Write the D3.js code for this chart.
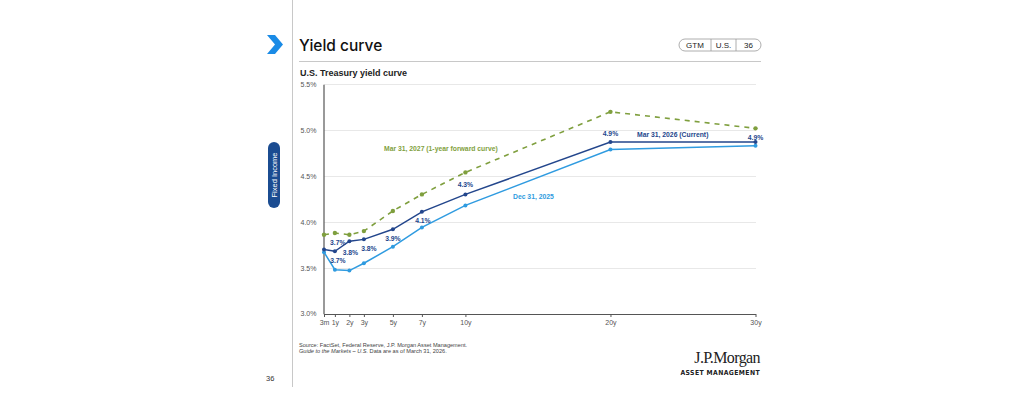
<!DOCTYPE html>
<html>
<head>
<meta charset="utf-8">
<script src="https://cdn.jsdelivr.net/npm/d3@7"></script>
<style>
  body { margin: 0; background: #fff; }
  svg { display: block; font-family: "Liberation Sans", Arial, sans-serif; }
</style>
</head>
<body>
<svg id="chart" width="1024" height="395"></svg>
<script>
// maturities in years (3m = 0.25)
var maturities = [0.25, 1, 2, 3, 5, 7, 10, 20, 30];
var tickLabels = ["3m", "1y", "2y", "3y", "5y", "7y", "10y", "20y", "30y"];
var yTicks = [3.0, 3.5, 4.0, 4.5, 5.0, 5.5];

var current = [3.70, 3.68, 3.79, 3.81, 3.92, 4.11, 4.30, 4.87, 4.87];
var dec2025 = [3.67, 3.48, 3.47, 3.55, 3.73, 3.94, 4.18, 4.79, 4.83];
var forward = [3.86, 3.88, 3.86, 3.90, 4.12, 4.30, 4.54, 5.20, 5.02];

// labels on the current curve: text, dx, dy (offset from point)
var curLabels = ["3.7%", "3.7%", "3.8%", "3.8%", "3.9%", "4.1%", "4.3%", "4.9%", "4.9%"];
var curLabelPos = [[6, -4], [3, 12], [1, 14], [5, 12], [0, 12], [1, 11], [0, -7], [0, -6], [0, -2]];

var blueDark = "#23468c";
var blueLight = "#2f9be0";
var green = "#7f9f3e";

var svg = d3.select("#chart");

// page frame
svg.append("line").attr("x1", 292.5).attr("x2", 292.5).attr("y1", 0).attr("y2", 387)
  .attr("stroke", "#c8c8c8").attr("stroke-width", 1);

svg.append("path").attr("d", "M267,35 L275,35 L283,44.5 L275,54 L267,54 L275,44.5 Z")
  .attr("fill", "#1a8be6");

svg.append("text").attr("x", 299).attr("y", 51).text("Yield curve")
  .attr("font-size", 15.5).attr("font-weight", 500).attr("fill", "#111")
  .style("font-family", "Inter, 'Liberation Sans', sans-serif");

svg.append("line").attr("x1", 299).attr("x2", 761).attr("y1", 61.5).attr("y2", 61.5)
  .attr("stroke", "#c8c8c8");

// GTM pill
var pill = svg.append("g");
pill.append("rect").attr("x", 679).attr("y", 39).attr("width", 82).attr("height", 12).attr("rx", 6)
  .attr("fill", "#fff").attr("stroke", "#999").attr("stroke-width", 0.8);
[711, 736].forEach(function(x){
  pill.append("line").attr("x1", x).attr("x2", x).attr("y1", 39).attr("y2", 51).attr("stroke", "#999").attr("stroke-width", 0.8);
});
[["GTM", 695], ["U.S.", 723.5], ["36", 748.5]].forEach(function(t){
  pill.append("text").attr("x", t[1]).attr("y", 48.3).attr("text-anchor", "middle")
    .attr("font-size", 8).attr("fill", "#222").text(t[0]);
});

svg.append("text").attr("x", 300).attr("y", 76).text("U.S. Treasury yield curve")
  .attr("font-size", 9).attr("font-weight", "bold").attr("fill", "#222");

// side tab
svg.append("rect").attr("x", 268).attr("y", 142).attr("width", 12).attr("height", 66).attr("rx", 6)
  .attr("fill", "#1b4c91");
svg.append("text").attr("transform", "translate(277.3,175) rotate(-90)").attr("text-anchor", "middle")
  .attr("font-size", 7.5).attr("fill", "#fff").text("Fixed Income");

svg.append("text").attr("x", 266).attr("y", 381).attr("font-size", 7.5).attr("fill", "#333").text("36");

// scales
var x = d3.scaleLinear().domain([0.25, 30]).range([324, 755.5]);
var y = d3.scaleLinear().domain([3.0, 5.5]).range([313.7, 84.3]);

// gridlines
svg.append("g").selectAll("line").data(yTicks.slice(1)).join("line")
  .attr("x1", 324).attr("x2", 756)
  .attr("y1", function(d){ return Math.round(y(d)) + 0.5; })
  .attr("y2", function(d){ return Math.round(y(d)) + 0.5; })
  .attr("stroke", "#e2e2e2").attr("stroke-width", 0.8);

// y axis
var yAxis = svg.append("g").attr("transform", "translate(323.5,0)")
  .call(d3.axisLeft(y).tickValues(yTicks).tickSize(0).tickPadding(7)
    .tickFormat(function(d){ return d.toFixed(1) + "%"; }));
yAxis.select(".domain").attr("stroke", "#555").attr("stroke-width", 1.2);
yAxis.selectAll("text").attr("font-size", 7).attr("fill", "#555").style("font-family", "'Liberation Sans', Arial, sans-serif");

// x axis
var xAxis = svg.append("g").attr("transform", "translate(0,314)")
  .call(d3.axisBottom(x).tickValues(maturities).tickSize(3).tickPadding(3)
    .tickFormat(function(d, i){ return tickLabels[i]; }));
xAxis.select(".domain").attr("stroke", "#555").attr("stroke-width", 1.2).attr("d", "M324,0.5H756");
xAxis.selectAll(".tick line").attr("stroke", "#555");
xAxis.selectAll("text").attr("font-size", 7).attr("fill", "#555").style("font-family", "'Liberation Sans', Arial, sans-serif");

function drawSeries(vals, color, dashed, r){
  var pts = maturities.map(function(m, i){ return [x(m), y(vals[i])]; });
  svg.append("path").attr("d", d3.line()(pts)).attr("fill", "none")
    .attr("stroke", color).attr("stroke-width", dashed ? 1.6 : 1.5)
    .attr("stroke-dasharray", dashed ? "5,5" : null);
  svg.append("g").selectAll("circle").data(pts).join("circle")
    .attr("cx", function(d){ return d[0]; }).attr("cy", function(d){ return d[1]; })
    .attr("r", r).attr("fill", color);
}

drawSeries(forward, green, true, 2.2);
drawSeries(dec2025, blueLight, false, 2);
drawSeries(current, blueDark, false, 2);

// data labels
svg.append("g").selectAll("text").data(current).join("text")
  .attr("x", function(d, i){ return x(maturities[i]) + curLabelPos[i][0]; })
  .attr("y", function(d, i){ return y(d) + curLabelPos[i][1]; })
  .attr("text-anchor", function(d, i){ return i == 0 ? "start" : "middle"; })
  .attr("font-size", 6.8).attr("font-weight", "bold").attr("fill", blueDark)
  .text(function(d, i){ return curLabels[i]; });

// series labels
svg.append("text").attr("x", 384).attr("y", 151).attr("font-size", 6.8).attr("font-weight", "bold")
  .attr("fill", green).text("Mar 31, 2027 (1-year forward curve)");
svg.append("text").attr("x", 637).attr("y", 137).attr("font-size", 6.8).attr("font-weight", "bold")
  .attr("fill", blueDark).text("Mar 31, 2026 (Current)");
svg.append("text").attr("x", 513).attr("y", 198.5).attr("font-size", 6.8).attr("font-weight", "bold")
  .attr("fill", blueLight).text("Dec 31, 2025");

// footer
svg.append("text").attr("x", 299).attr("y", 346.5).attr("font-size", 5.6).attr("fill", "#444")
  .text("Source: FactSet, Federal Reserve, J.P. Morgan Asset Management.");
var f2 = svg.append("text").attr("x", 299).attr("y", 352.5).attr("font-size", 5.6).attr("fill", "#444");
f2.append("tspan").attr("font-style", "italic").text("Guide to the Markets – U.S.");
f2.append("tspan").text(" Data are as of March 31, 2026.");

svg.append("text").attr("x", 760).attr("y", 363).attr("text-anchor", "end")
  .attr("font-size", 16).attr("fill", "#222").style("font-family", "'Liberation Serif', 'DejaVu Serif', serif")
  .attr("letter-spacing", -0.6).text("J.P.Morgan");
svg.append("text").attr("x", 760).attr("y", 375).attr("text-anchor", "end")
  .attr("font-size", 6.8).attr("font-weight", "bold").attr("fill", "#222").attr("letter-spacing", 0.4)
  .style("font-family", "'DejaVu Sans Condensed', 'Liberation Sans Narrow', sans-serif")
  .text("ASSET MANAGEMENT");
</script>
</body>
</html>
